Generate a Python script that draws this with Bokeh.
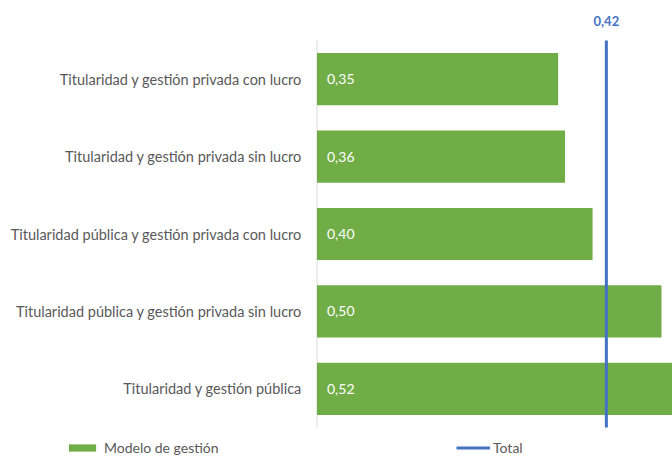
from bokeh.plotting import figure
from bokeh.models import ColumnDataSource, Label, Legend, LegendItem, FactorRange, Range1d
from bokeh.core.properties import value
from bokeh.embed import file_html
from bokeh.resources import INLINE

categories = [
    "Titularidad y gestión privada con lucro",
    "Titularidad y gestión privada sin lucro",
    "Titularidad pública y gestión privada con lucro",
    "Titularidad pública y gestión privada sin lucro",
    "Titularidad y gestión pública",
]
values = [0.35, 0.36, 0.40, 0.50, 0.52]
total = 0.42

GREEN = "#70AD47"
BLUE = "#4472C4"
GREY = "#595959"
AXIS = "#D9D9D9"
FONT = "Lato"

labels = [f"{v:.2f}".replace(".", ",") for v in values]
src = ColumnDataSource(dict(cat=categories, val=values, lab=labels, zero=[0.0] * len(values)))
n = len(categories)

p = figure(
    width=672, height=456,
    y_range=FactorRange(*list(reversed(categories)), range_padding=0.375,
                        range_padding_units="absolute"),
    x_range=Range1d(-0.4594, 0.516),
    output_backend="svg", toolbar_location=None,
    min_border_left=0, min_border_right=0, min_border_top=11, min_border_bottom=0,
)
p.outline_line_color = None
p.grid.visible = False
p.xaxis.visible = False
p.yaxis.visible = False

# category axis: line at zero and labels to its left
p.segment(x0=[0.0], y0=[0], x1=[0.0], y1=[n], line_color=AXIS, line_width=1)
p.text(x="zero", y="cat", text="cat", source=src, x_offset=-15, text_color=GREY,
       text_font=value(FONT), text_font_size="14.5px", text_baseline="middle", text_align="right")

bars = p.hbar(y="cat", right="val", left=0, height=0.675, source=src, color=GREEN, line_color=None)
p.text(x="zero", y="cat", text="lab", source=src, x_offset=10, text_color="white",
       text_font=value(FONT), text_font_size="14px", text_baseline="middle", text_align="left")

tot_line = p.segment(x0=[total], y0=[0], x1=[total], y1=[n], line_color=BLUE, line_width=3)

p.add_layout(Label(x=total, y=n + 0.25, text=f"{total:.2f}".replace(".", ","), text_align="center",
                   text_baseline="middle", text_color=BLUE, text_font_style="bold",
                   text_font=FONT, text_font_size="13px"))

common = dict(orientation="horizontal", padding=0, margin=0, border_line_color=None,
              background_fill_alpha=0, glyph_width=34, glyph_height=9,
              label_text_font=FONT, label_text_font_size="14px", label_text_color=GREY)
leg1 = Legend(items=[LegendItem(label="Modelo de gestión", renderers=[bars])],
              location=(65, 0), label_standoff=5, **common)
leg2 = Legend(items=[LegendItem(label="Total", renderers=[tot_line])],
              location=(456, 0), label_standoff=3, **common)
p.add_layout(leg1, "center")
p.add_layout(leg2, "center")

open("out.html", "w").write(file_html(p, INLINE))
